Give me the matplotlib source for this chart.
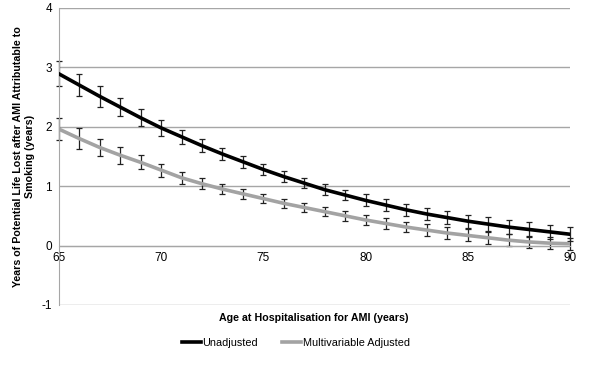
import matplotlib.pyplot as plt

plt.rcParams['font.family'] = ['Liberation Sans', 'DejaVu Sans']
plt.rcParams['axes.unicode_minus'] = False

# Data
ages = list(range(65, 91))
unadjusted = [2.89, 2.70, 2.51, 2.33, 2.15, 1.98, 1.83, 1.68, 1.54, 1.41, 1.28, 1.16, 1.05,
              0.94, 0.85, 0.76, 0.68, 0.60, 0.53, 0.47, 0.41, 0.36, 0.31, 0.27, 0.23, 0.19]
unadjusted_err = [0.21, 0.19, 0.17, 0.15, 0.14, 0.13, 0.12, 0.11, 0.10, 0.10, 0.09, 0.09, 0.09,
                  0.09, 0.09, 0.10, 0.10, 0.10, 0.10, 0.11, 0.11, 0.12, 0.12, 0.12, 0.12, 0.12]
adjusted = [1.96, 1.80, 1.65, 1.52, 1.40, 1.27, 1.14, 1.04, 0.95, 0.87, 0.79, 0.71, 0.64,
            0.57, 0.50, 0.43, 0.37, 0.31, 0.26, 0.21, 0.17, 0.13, 0.09, 0.06, 0.04, 0.03]
adjusted_err = [0.19, 0.17, 0.15, 0.14, 0.12, 0.11, 0.10, 0.09, 0.09, 0.08, 0.08, 0.08, 0.08,
                0.08, 0.08, 0.09, 0.09, 0.09, 0.10, 0.10, 0.10, 0.10, 0.10, 0.10, 0.10, 0.10]

fig = plt.figure(figsize=(5.95, 3.76), dpi=100)
ax = fig.add_axes([0.099, 0.189, 0.859, 0.79])

grid_col = '#a6a6a6'
for yv in range(-1, 5):
    ax.axhline(yv, color=grid_col, lw=1.0, zorder=0)

for vals, errs in [(unadjusted, unadjusted_err), (adjusted, adjusted_err)]:
    eb = ax.errorbar(ages, vals, yerr=errs, fmt='none', ecolor='#222222',
                     elinewidth=0.9, capsize=2.5, capthick=0.9, zorder=2)
    for art in eb.lines[1] + eb.lines[2]:
        art.set_clip_on(False)
ax.plot(ages, adjusted, color='#a3a3a3', lw=2.6, label='Multivariable Adjusted', zorder=3)
ax.plot(ages, unadjusted, color='black', lw=2.6, label='Unadjusted', zorder=4)

ax.set_xlim(65, 90)
ax.set_ylim(-1, 4)
ax.set_xticks([65, 70, 75, 80, 85, 90])
ax.set_yticks(range(-1, 5))
ax.tick_params(length=0, labelsize=8.5, pad=5)

ax.spines['top'].set_visible(False)
ax.spines['right'].set_visible(False)
ax.spines['bottom'].set_position(('data', 0))
ax.spines['bottom'].set_color(grid_col)
ax.spines['left'].set_color(grid_col)

ax.set_ylabel('Years of Potential Life Lost after AMI Attributable to\nSmoking (years)',
              fontsize=7.7, fontweight='bold', labelpad=5)
fig.text(0.527, 0.155, 'Age at Hospitalisation for AMI (years)', ha='center', va='center',
         fontsize=7.7, fontweight='bold')

handles, labels = ax.get_legend_handles_labels()
fig.legend(handles[::-1], labels[::-1], loc='center', bbox_to_anchor=(0.497, 0.088), ncol=2,
           frameon=False, fontsize=7.8, handlelength=1.8, handletextpad=0.1, columnspacing=2.2)

fig.savefig('out.png', dpi=100)
